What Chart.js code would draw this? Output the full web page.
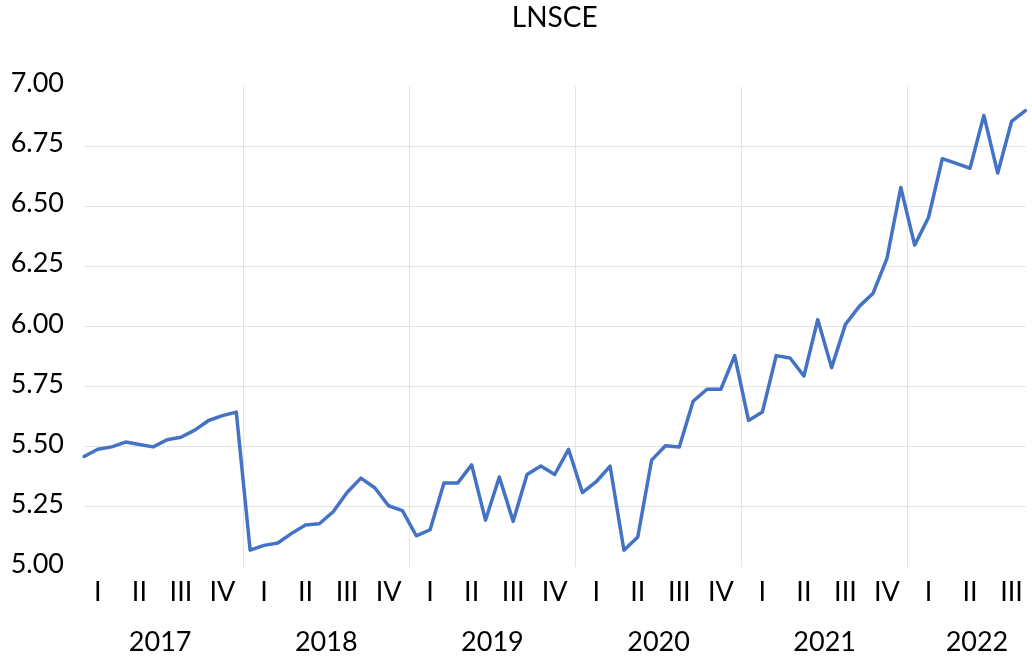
<!DOCTYPE html>
<html>
<head>
<meta charset="utf-8">
<script src="https://cdn.jsdelivr.net/npm/chart.js@4.4.1/dist/chart.umd.min.js"></script>
<style>
  html, body { margin: 0; padding: 0; background: #fff; }
  #wrap { width: 1032px; height: 661px; }
</style>
</head>
<body>
<div id="wrap"><canvas id="lnsceChart" width="1032" height="661"></canvas></div>
<script>
// --- data: monthly LNSCE, Jan 2017 .. Sep 2022 ---
const months = [
  '2017-01','2017-02','2017-03','2017-04','2017-05','2017-06','2017-07','2017-08','2017-09','2017-10','2017-11','2017-12',
  '2018-01','2018-02','2018-03','2018-04','2018-05','2018-06','2018-07','2018-08','2018-09','2018-10','2018-11','2018-12',
  '2019-01','2019-02','2019-03','2019-04','2019-05','2019-06','2019-07','2019-08','2019-09','2019-10','2019-11','2019-12',
  '2020-01','2020-02','2020-03','2020-04','2020-05','2020-06','2020-07','2020-08','2020-09','2020-10','2020-11','2020-12',
  '2021-01','2021-02','2021-03','2021-04','2021-05','2021-06','2021-07','2021-08','2021-09','2021-10','2021-11','2021-12',
  '2022-01','2022-02','2022-03','2022-04','2022-05','2022-06','2022-07','2022-08','2022-09'
];

const lnsce = [
  5.46, 5.49, 5.50, 5.52, 5.51, 5.50, 5.53, 5.54, 5.57, 5.61, 5.63, 5.645,
  5.07, 5.09, 5.10, 5.14, 5.175, 5.18, 5.23, 5.31, 5.37, 5.33, 5.255, 5.235,
  5.13, 5.155, 5.35, 5.35, 5.425, 5.195, 5.375, 5.19, 5.385, 5.42, 5.385, 5.49,
  5.31, 5.355, 5.42, 5.07, 5.125, 5.445, 5.505, 5.50, 5.69, 5.74, 5.74, 5.88,
  5.61, 5.645, 5.88, 5.87, 5.795, 6.03, 5.83, 6.01, 6.085, 6.14, 6.285, 6.58,
  6.34, 6.455, 6.70, 6.68, 6.66, 6.88, 6.64, 6.855, 6.90
];

// quarter labels (centre month of each quarter) and year labels
const quarterNames = ['I', 'II', 'III', 'IV'];
const quarterPos = [1, 4, 7, 10, 13, 16, 19, 22, 25, 28, 31, 34, 37, 40, 43, 46, 49, 52, 55, 58, 61, 64, 67];
const yearLabels = ['2017', '2018', '2019', '2020', '2021', '2022'];
const yearPos = [5.5, 17.5, 29.5, 41.5, 53.5, 64.5];
const yearBreaks = [11.5, 23.5, 35.5, 47.5, 59.5];

const FONT = 'Lato, "Open Sans", sans-serif';
const lastIdx = months.length - 1;

document.addEventListener('DOMContentLoaded', function() {
  const ctx = document.getElementById('lnsceChart').getContext('2d');

  new Chart(ctx, {
    type: 'line',
    data: {
      labels: months,
      datasets: [{
        label: 'LNSCE',
        data: lnsce,
        borderColor: '#4472C4',
        borderWidth: 3.5,
        borderJoinStyle: 'round',
        borderCapStyle: 'round',
        pointRadius: 0,
        tension: 0,
        fill: false
      }]
    },
    options: {
      responsive: false,
      animation: false,
      devicePixelRatio: 1,
      layout: { padding: { left: 0, right: 4, top: 0, bottom: 0 } },
      scales: {
        x: { type: 'category', display: false },
        // vertical lines between years
        xGrid: {
          type: 'linear', position: 'bottom', min: 0, max: lastIdx, bounds: 'data', weight: 0,
          afterBuildTicks: s => { s.ticks = yearBreaks.map(v => ({ value: v })); },
          afterFit: s => { s.height = 0; },
          ticks: { display: false },
          grid: { color: '#e4e4e4', lineWidth: 1, drawTicks: false },
          border: { display: false }
        },
        xQuarter: {
          type: 'linear', position: 'bottom', min: 0, max: lastIdx, bounds: 'data', weight: 1,
          afterBuildTicks: s => { s.ticks = quarterPos.map(v => ({ value: v })); },
          afterFit: s => { s.height = 40; },
          ticks: {
            autoSkip: false, maxRotation: 0, padding: 9,
            color: '#000', font: { family: FONT, size: 27 },
            callback: (v, i) => quarterNames[i % 4]
          },
          grid: { display: false, drawTicks: false },
          border: { display: false }
        },
        xYear: {
          type: 'linear', position: 'bottom', min: 0, max: lastIdx, bounds: 'data', weight: 2,
          afterBuildTicks: s => { s.ticks = yearPos.map(v => ({ value: v })); },
          afterFit: s => { s.height = 54; },
          ticks: {
            autoSkip: false, maxRotation: 0, padding: 19,
            color: '#000', font: { family: FONT, size: 27 },
            callback: (v, i) => yearLabels[i]
          },
          grid: { display: false, drawTicks: false },
          border: { display: false }
        },
        y: {
          min: 5, max: 7,
          afterFit: s => { s.width = 84; },
          ticks: {
            stepSize: 0.25, padding: 20, labelOffset: -3,
            color: '#000', font: { family: FONT, size: 27 },
            callback: v => v.toFixed(2)
          },
          grid: {
            drawTicks: false,
            color: c => (c.tick && (c.tick.value === 5 || c.tick.value === 7)) ? 'rgba(0,0,0,0)' : '#e4e4e4'
          },
          border: { display: false }
        }
      },
      plugins: {
        legend: { display: false },
        tooltip: { enabled: false },
        title: {
          display: true,
          fullSize: false,
          text: 'LNSCE',
          color: '#000',
          font: { family: FONT, size: 28, weight: 'normal' },
          padding: { top: 1, bottom: 52 }
        }
      }
    }
  });
});
</script>
</body>
</html>
